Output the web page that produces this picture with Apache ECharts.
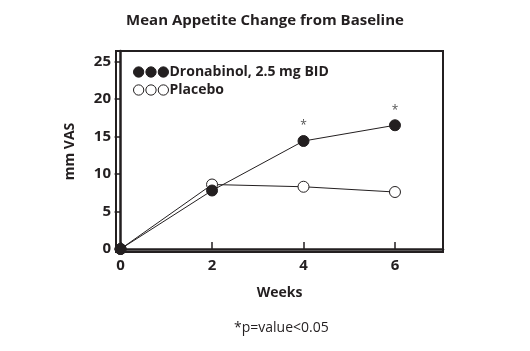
<!DOCTYPE html>
<html><head><meta charset="utf-8">
<script src="https://cdn.jsdelivr.net/npm/echarts@6/dist/echarts.min.js"></script>
<style>html,body{margin:0;padding:0;background:#fff}#c{width:530px;height:351px}</style>
</head><body><div id="c"></div>
<script>
const weeks = [0, 2, 4, 6];
const seriesNames = ['Dronabinol, 2.5 mg BID', 'Placebo'];
const dronabinol = [0, 7.8, 14.4, 16.5];
const placebo = [0, 8.6, 8.3, 7.6];
const significance = ['', '', '*', '*'];
const yTicks = [0, 5, 10, 15, 20, 25];
const xTicks = [0, 2, 4, 6];
const titleText = 'Mean Appetite Change from Baseline';
const yName = 'mm VAS';
const xName = 'Weeks';
const footnote = '*p=value<0.05';

const FONT = '"Open Sans", "DejaVu Sans", sans-serif';
const threeDots = 'path://M0,5a5,5 0 1,0 10,0a5,5 0 1,0 -10,0ZM12,5a5,5 0 1,0 10,0a5,5 0 1,0 -10,0ZM24,5a5,5 0 1,0 10,0a5,5 0 1,0 -10,0Z';

function build(vals, withSig) {
  return weeks.map((w, i) => ({
    value: [w, vals[i]],
    label: { show: withSig && significance[i] === '*', formatter: significance[i] }
  }));
}

const chart = echarts.init(document.getElementById('c'), null, { renderer: 'canvas' });
chart.setOption({
  animation: false,
  backgroundColor: '#fff',
  title: {
    text: titleText, left: 'center', top: 8,
    textStyle: { fontFamily: FONT, fontWeight: 'bold', fontSize: 15, color: '#231f20' }
  },
  grid: { left: 116, top: 51, right: 87, bottom: 99, show: true, borderColor: '#231f20', borderWidth: 2, backgroundColor: 'transparent' },
  legend: {
    orient: 'vertical', left: 128, top: 60, itemGap: 4, itemWidth: 35, itemHeight: 11,
    textStyle: { fontFamily: FONT, fontWeight: 'bold', fontSize: 14, color: '#231f20', padding: [0, 0, 0, -4] },
    data: [
      { name: seriesNames[0], icon: threeDots, itemStyle: { color: '#231f20', borderColor: '#231f20', borderWidth: 1 } },
      { name: seriesNames[1], icon: threeDots, itemStyle: { color: '#fff', borderColor: '#231f20', borderWidth: 1 } }
    ]
  },
  xAxis: {
    type: 'value', min: -0.1, max: 7.05,
    name: xName, nameLocation: 'middle', nameGap: 34,
    nameTextStyle: { fontFamily: FONT, fontWeight: 'bold', fontSize: 14, color: '#231f20' },
    axisLine: { show: true, lineStyle: { color: '#231f20', width: 2.5 } },
    axisTick: { show: true, inside: true, length: 7, customValues: xTicks, lineStyle: { color: '#231f20', width: 1.5 } },
    axisLabel: { customValues: xTicks, margin: 6, fontFamily: FONT, fontWeight: 'bold', fontSize: 15, color: '#231f20' },
    splitLine: { show: false }
  },
  yAxis: {
    type: 'value', min: -0.4, max: 26.4,
    name: yName, nameLocation: 'middle', nameGap: 39, nameRotate: 90,
    nameTextStyle: { fontFamily: FONT, fontWeight: 'bold', fontSize: 14, color: '#231f20' },
    axisLine: { show: true, lineStyle: { color: '#231f20', width: 2.5 } },
    axisTick: { show: true, inside: false, length: 6, customValues: yTicks, lineStyle: { color: '#231f20', width: 1.5 } },
    axisLabel: { customValues: yTicks, margin: 5, fontFamily: FONT, fontWeight: 'bold', fontSize: 15, color: '#231f20' },
    splitLine: { show: false }
  },
  series: [
    {
      name: seriesNames[1], type: 'line', data: build(placebo, false),
      symbol: 'circle', symbolSize: 11,
      lineStyle: { color: '#231f20', width: 1 },
      itemStyle: { color: '#fff', borderColor: '#231f20', borderWidth: 1 },
      z: 2
    },
    {
      name: seriesNames[0], type: 'line', data: build(dronabinol, true),
      symbol: 'circle', symbolSize: 11,
      lineStyle: { color: '#231f20', width: 1 },
      itemStyle: { color: '#231f20', borderColor: '#231f20', borderWidth: 1 },
      label: { position: 'top', distance: 3, fontFamily: FONT, fontSize: 12, color: '#555' },
      z: 3
    }
  ],
  graphic: [{
    type: 'text', left: 234, top: 321,
    style: { text: footnote, fontFamily: FONT, fontSize: 14, fill: '#231f20' }
  }]
});
</script></body></html>
